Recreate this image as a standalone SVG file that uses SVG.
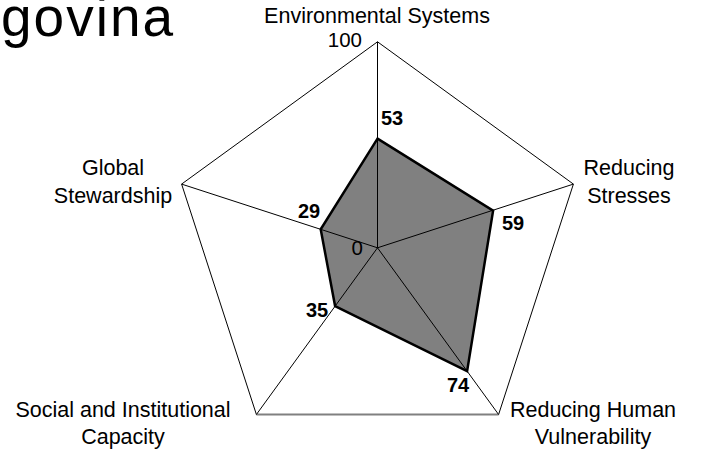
<svg xmlns="http://www.w3.org/2000/svg" width="710" height="449" viewBox="0 0 710 449">
<style>
.lbl{font-family:"Liberation Sans",Arial,sans-serif;font-size:21.5px;fill:#000;text-anchor:middle}
.val{font-family:"Liberation Sans",Arial,sans-serif;font-size:20px;font-weight:bold;fill:#000}
.axis{stroke:#000;stroke-width:1;fill:none}
</style>
<rect width="710" height="449" fill="#fff"/>
<text x="1" y="36" font-family="'Liberation Sans',Arial,sans-serif" font-size="55" letter-spacing="2" fill="#000">govina</text>
<g id="grid">
<polygon class="axis" points="377.5,41.8 573.4,184.1 498.6,414.5 256.4,414.5 181.6,184.1"/>
<line x1="256.4" y1="414.5" x2="498.6" y2="414.5" stroke="#808080" stroke-width="2"/>
</g>
<g id="data">
<polygon points="377.5,138.6 493.1,210.6 467.1,371.1 335.1,306.1 320.7,229.3" fill="#808080" stroke="#000" stroke-width="2.5" stroke-linejoin="miter"/>
</g>
<g id="connectors">
<line class="axis" x1="377.5" y1="247.8" x2="377.5" y2="41.8"/>
<line class="axis" x1="377.5" y1="247.8" x2="573.4" y2="184.1"/>
<line class="axis" x1="377.5" y1="247.8" x2="498.6" y2="414.5"/>
<line class="axis" x1="377.5" y1="247.8" x2="256.4" y2="414.5"/>
<line class="axis" x1="377.5" y1="247.8" x2="181.6" y2="184.1"/>
</g>
<g id="node-env"><text class="lbl" x="377" y="23">Environmental Systems</text></g>
<g id="node-stress"><text class="lbl" x="629" y="175">Reducing</text><text class="lbl" x="629" y="203">Stresses</text></g>
<g id="node-human"><text class="lbl" x="593" y="417">Reducing Human</text><text class="lbl" x="593" y="444">Vulnerability</text></g>
<g id="node-social"><text class="lbl" x="123" y="417">Social and Institutional</text><text class="lbl" x="123" y="444">Capacity</text></g>
<g id="node-global"><text class="lbl" x="113" y="175">Global</text><text class="lbl" x="113" y="203">Stewardship</text></g>
<g id="scale">
<text x="362" y="47" font-family="'Liberation Sans',Arial,sans-serif" font-size="20.5" text-anchor="end">100</text>
<text x="363" y="255" font-family="'Liberation Sans',Arial,sans-serif" font-size="20.5" text-anchor="end">0</text>
</g>
<g id="values">
<text class="val" x="381" y="125">53</text>
<text class="val" x="502" y="230">59</text>
<text class="val" x="447" y="392">74</text>
<text class="val" x="306" y="317">35</text>
<text class="val" x="298" y="218">29</text>
</g>
</svg>
